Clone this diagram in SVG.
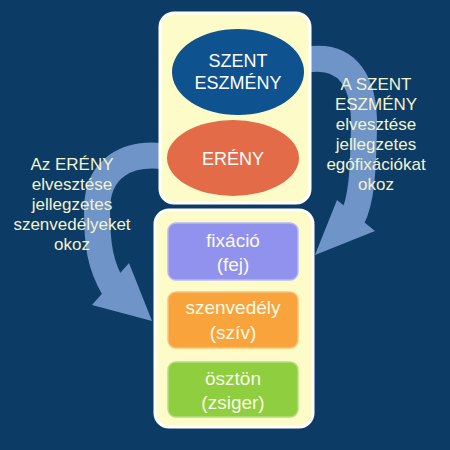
<svg xmlns="http://www.w3.org/2000/svg" width="450" height="450" viewBox="0 0 450 450">
<style>
.panel{fill:#fdfcc8;stroke:#ffffff;stroke-width:3}
.shaft{fill:none;stroke:#6f94c8;stroke-width:26}
.head{fill:#6f94c8}
.t{font-family:"Liberation Sans",Arial,sans-serif;text-anchor:middle}
.w{fill:#ffffff;font-size:18px}
.c{fill:#fafae6;font-size:19px}
.s{fill:#f3f3cf;font-size:17px}
</style>
<rect width="450" height="450" fill="#0c3b65"/>
<g id="connectors">
<path class="shaft" d="M305,60 C350,52 365,85 364,128 C363,170 362,200 352,219"/>
<polygon class="head" points="337,200 375,231 315,255"/>
<path class="shaft" d="M175,158 C125,148 97,170 97,210 C97,245 100,265 114,289"/>
<polygon class="head" points="92,305 129,263 152,321"/>
</g>
<g id="top-panel">
<rect class="panel" x="160" y="13" width="150" height="190" rx="14"/>
</g>
<g id="szent-eszmeny">
<ellipse cx="238" cy="72" rx="66" ry="43" fill="#0e5290"/>
<text class="t w" x="238" y="67">SZENT</text>
<text class="t w" x="238" y="89">ESZMÉNY</text>
</g>
<g id="ereny">
<ellipse cx="233" cy="158" rx="66" ry="38" fill="#e36b48"/>
<text class="t w" x="233" y="165">ERÉNY</text>
</g>
<g id="bottom-panel">
<rect class="panel" x="155" y="210" width="158" height="217" rx="14"/>
</g>
<g id="fixacio">
<rect x="168" y="223" width="130" height="57" rx="8" fill="#9191ee" stroke="#b8b8f4" stroke-width="1.5"/>
<text class="t c" x="233" y="247">fixáció</text>
<text class="t c" x="233" y="271">(fej)</text>
</g>
<g id="szenvedely">
<rect x="168" y="292" width="130" height="56" rx="8" fill="#f9a33c" stroke="#fbc27a" stroke-width="1.5"/>
<text class="t c" x="233" y="314">szenvedély</text>
<text class="t c" x="233" y="339">(szív)</text>
</g>
<g id="osztont">
<rect x="168" y="362" width="130" height="55" rx="8" fill="#8ece3f" stroke="#b2de80" stroke-width="1.5"/>
<text class="t c" x="233" y="385">ösztön</text>
<text class="t c" x="233" y="409">(zsiger)</text>
</g>
<g id="left-label">
<text class="t s" x="72" y="170">Az ERÉNY</text>
<text class="t s" x="72" y="190">elvesztése</text>
<text class="t s" x="72" y="210">jellegzetes</text>
<text class="t s" x="72" y="230">szenvedélyeket</text>
<text class="t s" x="72" y="250">okoz</text>
</g>
<g id="right-label">
<text class="t s" x="376" y="90">A SZENT</text>
<text class="t s" x="376" y="110">ESZMÉNY</text>
<text class="t s" x="376" y="130">elvesztése</text>
<text class="t s" x="376" y="150">jellegzetes</text>
<text class="t s" x="376" y="170">egófixációkat</text>
<text class="t s" x="376" y="190">okoz</text>
</g>
</svg>
